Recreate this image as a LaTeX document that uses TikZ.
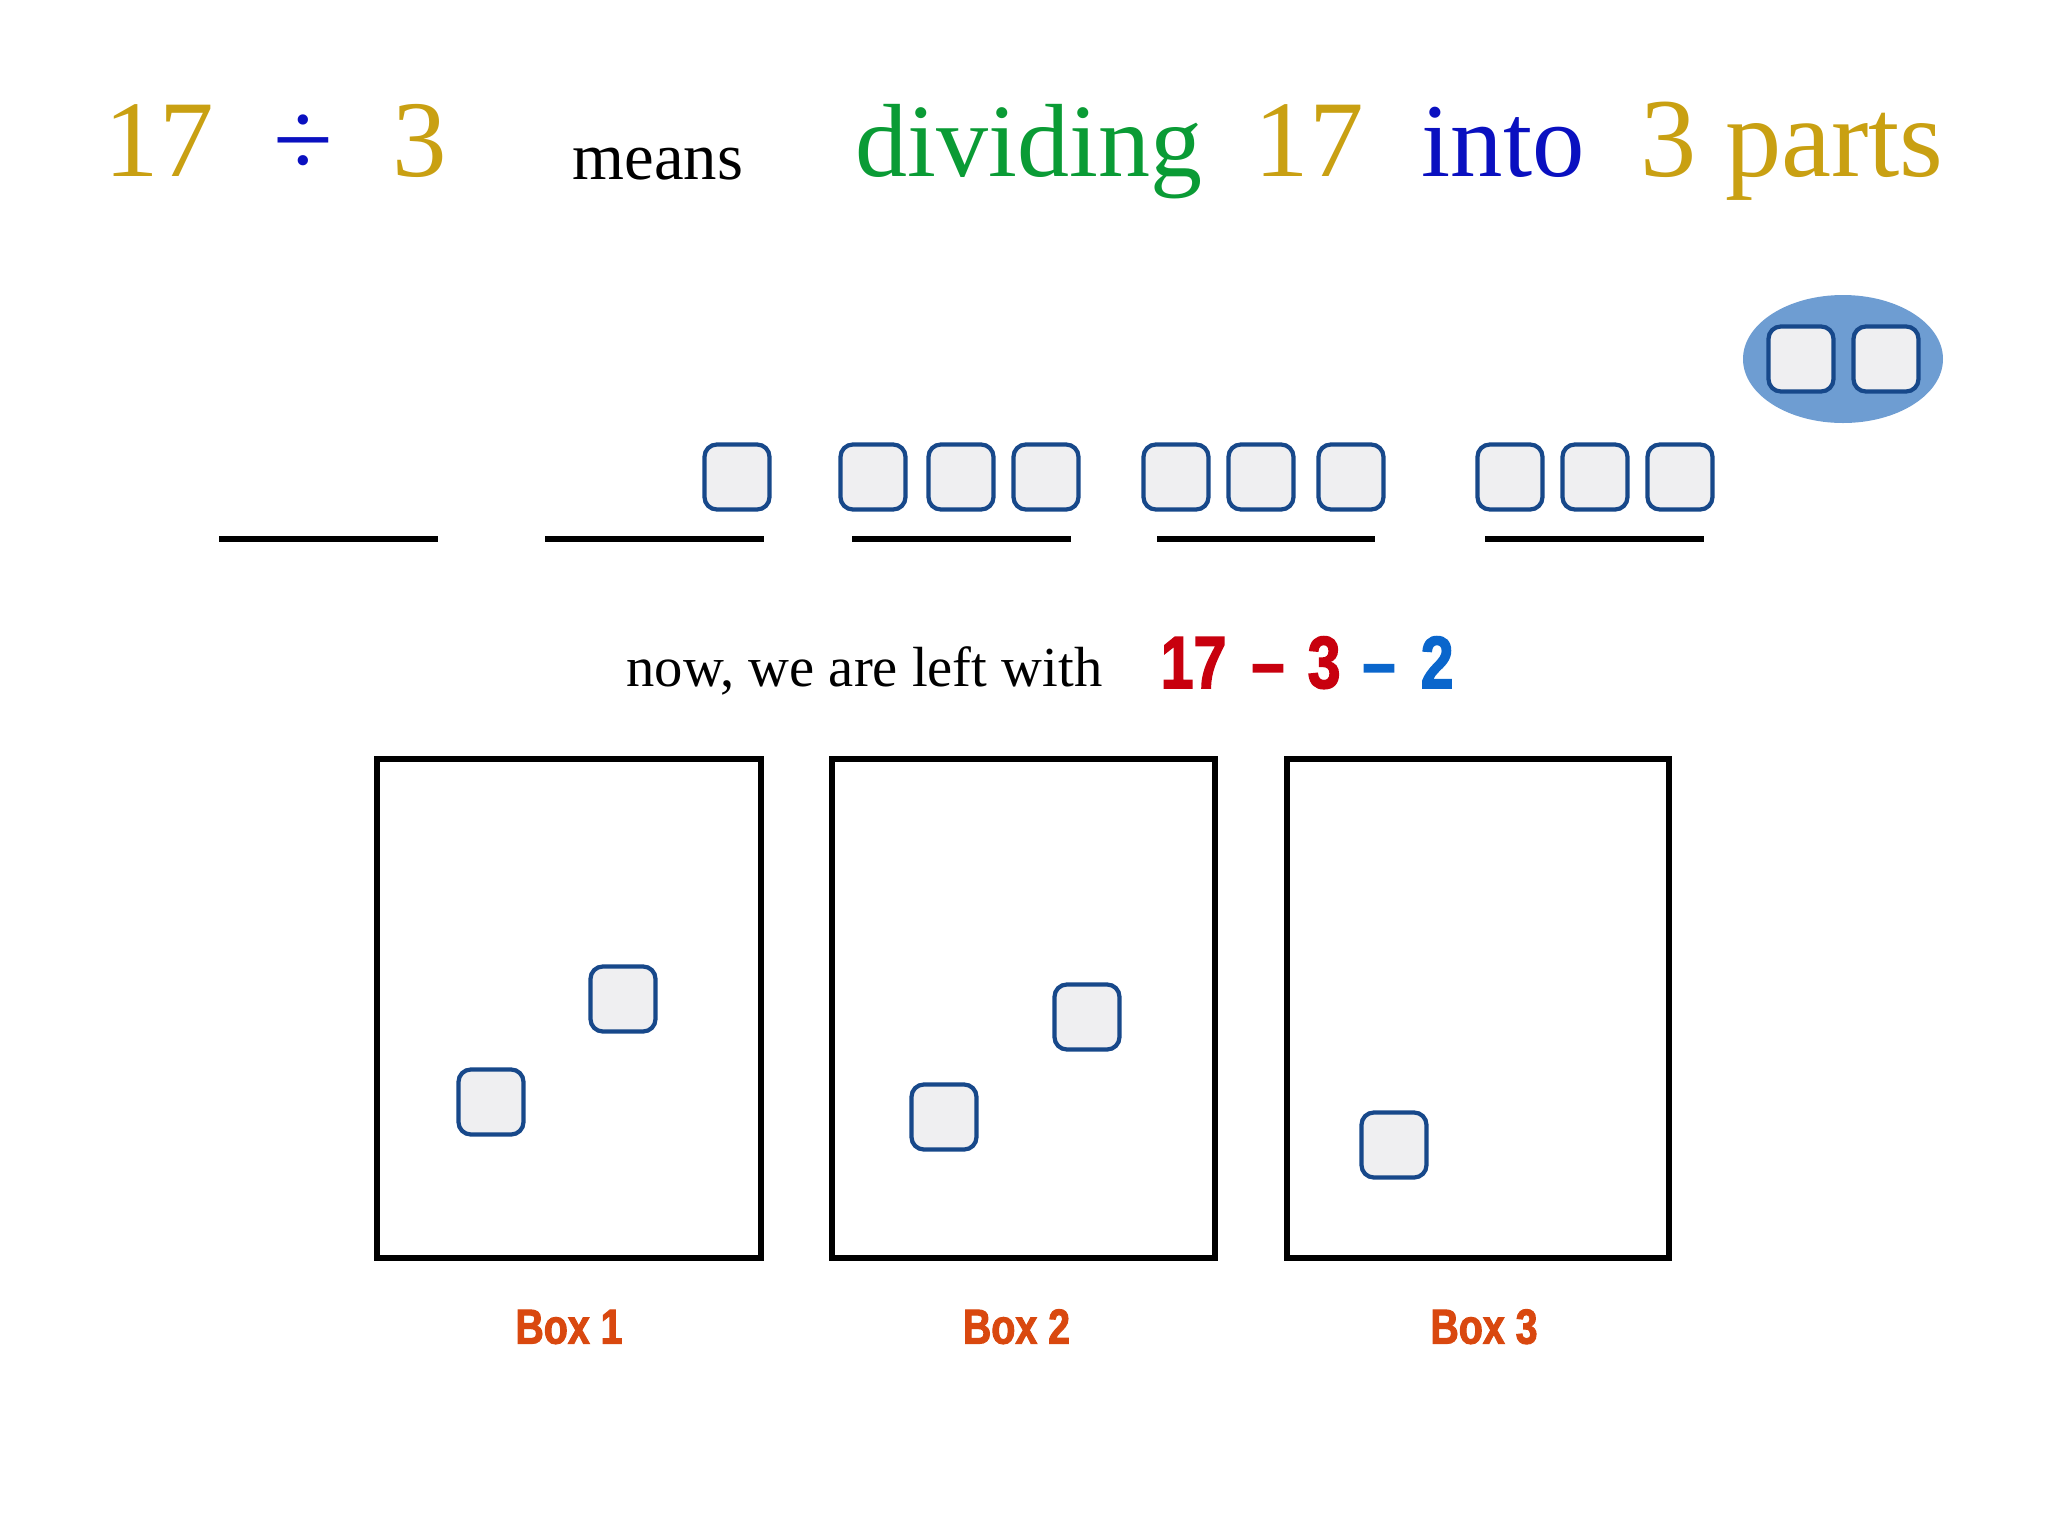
\documentclass[tikz,border=0pt]{standalone}
\usepackage{fontspec}
\setmainfont{Liberation Serif}
\newfontfamily\heavyfont[FakeStretch=0.8,FakeBold=2]{Liberation Sans}
\usepackage{xcolor}
\definecolor{titlegold}{HTML}{C9A012}
\definecolor{titlegreen}{HTML}{0A9B35}
\definecolor{titleblue}{HTML}{0A10C0}
\definecolor{tileedge}{HTML}{17488A}
\definecolor{tilefill}{HTML}{EFEFF1}
\definecolor{blobblue}{HTML}{6E9DD2}
\definecolor{leftred}{HTML}{C8000E}
\definecolor{leftblue}{HTML}{0A66CC}
\definecolor{boxorange}{HTML}{D9480F}
\tikzset{
    tile/.style={draw=tileedge,fill=tilefill,line width=1.2pt,rounded corners=3.5pt,minimum size=0.65cm,inner sep=0pt},
    slot/.style={line width=1.9pt},
    bin/.style={draw,line width=1.5pt,inner sep=0pt},
    big/.style={inner sep=0pt,anchor=base west,font=\fontsize{31}{36}\selectfont},
    heavy/.style={inner sep=0pt,anchor=base west,font=\heavyfont\bfseries\fontsize{21}{24}\selectfont},
    boxlabel/.style={inner sep=0pt,anchor=base,text=boxorange,font=\heavyfont\bfseries\fontsize{14}{16}\selectfont}
}

\begin{document}
\begin{tikzpicture}
\useasboundingbox (0,0) rectangle (20.48,-15.35);
% title line
\node[big,text=titlegold] (n17) at (1.04,-1.76) {17};
\node[big,text=titleblue,anchor=base] (div) at (3.03,-1.76) {÷};
\node[big,text=titlegold] (n3) at (3.92,-1.76) {3};
\node[big,font=\fontsize{19}{22}\selectfont] (means) at (5.72,-1.79) {means};
\node[big,text=titlegreen,font=\fontsize{29.6}{36}\selectfont] (dividing) at (8.55,-1.76) {dividing};
\node[big,text=titlegold] (m17) at (12.54,-1.76) {17};
\node[big,text=titleblue,font=\fontsize{29.8}{36}\selectfont] (into) at (14.21,-1.76) {into};
\node[big,text=titlegold,font=\fontsize{32}{36}\selectfont] (parts) at (16.40,-1.76) {3 parts};
% parts still to fill
\foreach \a/\b in {2.19/4.38,5.45/7.64,8.52/10.71,11.57/13.75,14.85/17.04}
    \draw[slot] (\a,-5.39) -- (\b,-5.39);
\foreach \name/\x in {t1/7.37,t2/8.73,t3/9.61,t4/10.46,t5/11.76,t6/12.61,t7/13.51,t8/15.10,t9/15.95,t10/16.80}
    \node[tile] (\name) at (\x,-4.77) {};
% the two taken away
\fill[blobblue] (18.43,-3.59) ellipse (1.0 and 0.64);
\node[tile] (r1) at (18.01,-3.59) {};
\node[tile] (r2) at (18.86,-3.59) {};
% what is left
\node[inner sep=0pt,anchor=base west,font=\fontsize{16.1}{20}\selectfont] (left) at (6.26,-6.86) {now, we are left with};
\node[heavy,text=leftred] (l17) at (11.60,-6.88) {17};
\node[heavy,text=leftred] (lm1) at (12.51,-6.88) {–};
\node[heavy,text=leftred] (l3) at (13.07,-6.88) {3};
\node[heavy,text=leftblue] (lm2) at (13.62,-6.88) {–};
\node[heavy,text=leftblue] (l2) at (14.20,-6.88) {2};
% the three boxes
\node[bin,minimum width=3.84cm,minimum height=4.99cm] (box1) at (5.69,-10.085) {};
\node[bin,minimum width=3.83cm,minimum height=4.99cm] (box2) at (10.235,-10.085) {};
\node[bin,minimum width=3.82cm,minimum height=4.99cm] (box3) at (14.78,-10.085) {};
\node[boxlabel] (lab1) at ([yshift=-0.83cm]box1.south) {Box 1};
\node[boxlabel] (lab2) at ([xshift=-0.07cm,yshift=-0.83cm]box2.south) {Box 2};
\node[boxlabel] (lab3) at ([xshift=0.06cm,yshift=-0.83cm]box3.south) {Box 3};
\node[tile] (b1a) at (6.23,-9.99) {};
\node[tile] (b1b) at (4.91,-11.02) {};
\node[tile] (b2a) at (10.87,-10.17) {};
\node[tile] (b2b) at (9.44,-11.17) {};
\node[tile] (b3a) at (13.94,-11.45) {};
\end{tikzpicture}
\end{document}
